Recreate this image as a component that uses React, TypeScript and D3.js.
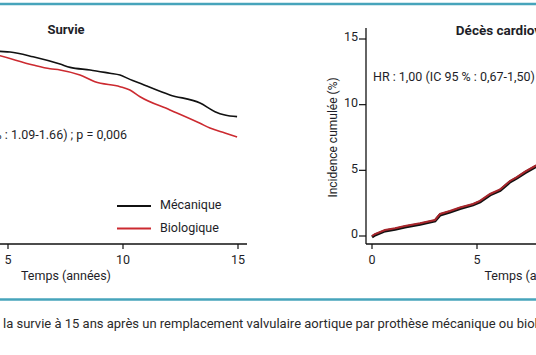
import React from "react";
import * as d3 from "d3";

// Survival (%) — left panel
const survTimes = [0, 4.65, 5.09, 6.09, 7.26, 7.7, 8.57, 9.43, 9.87, 10.3, 10.74, 12.04, 13.35, 14.0, 14.43, 14.96];
const survMeca = [100, 93.7, 93.4, 91.0, 87.3, 85.6, 84.3, 82.6, 81.7, 79.5, 77.5, 71.6, 67.5, 63.1, 61.4, 60.6];
const survBioTimes = [0, 4.65, 6.09, 6.83, 7.26, 8.13, 8.78, 9.87, 10.3, 10.74, 12.04, 13.35, 13.78, 14.43, 14.96];
const survBio = [100, 91.5, 86.8, 84.9, 84.3, 81.7, 78.3, 75.8, 74.1, 70.7, 64.0, 57.2, 54.8, 52.3, 50.3];

// Cumulative incidence (%) — cardiac death, right panel
const incTimes = [0, 0.14, 0.62, 1.1, 1.57, 2.29, 3.0, 3.24, 3.71, 4.19, 4.81, 5.14, 5.62, 6.1, 6.57, 6.9, 7.29, 7.81, 8.2];
const incValues = [0, 0.15, 0.46, 0.59, 0.76, 0.97, 1.22, 1.68, 1.9, 2.17, 2.44, 2.67, 3.2, 3.54, 4.19, 4.49, 4.9, 5.37, 5.6];

const xTicks = [0, 5, 10, 15];
const yTicksRight = [0, 5, 10, 15];

const FONT = "Roboto, 'Open Sans', sans-serif";
const TEAL = "#47a4bb";
const TXT = "#1e1e28";
const RED = "#cc2a30";

export default function App() {
  // left panel scales
  const xL = d3.scaleLinear().domain([0, 15]).range([-107, 238]);
  const yL = d3.scaleLinear().domain([0, 100]).range([236, 39]);
  // right panel scales
  const xR = d3.scaleLinear().domain([0, 15]).range([372, 687]);
  const yR = d3.scaleLinear().domain([0, 15]).range([236, 39]);

  const lineL = d3.line<[number, number]>().x((d) => xL(d[0])).y((d) => yL(d[1])).curve(d3.curveMonotoneX);
  const lineR = d3.line<[number, number]>().x((d) => xR(d[0])).y((d) => yR(d[1]));

  const meca = survTimes.map((t, i) => [t, survMeca[i]] as [number, number]);
  const bio = survBioTimes.map((t, i) => [t, survBio[i]] as [number, number]);
  const inc = incTimes.map((t, i) => [t, incValues[i]] as [number, number]);

  const axisY = 244;

  return (
    <div style={{ position: "fixed", left: 0, top: 0 }}>
      <svg width={536} height={355} style={{ display: "block", background: "#fff" }} fontFamily={FONT}>
        <line x1={0} x2={536} y1={4} y2={4} stroke={TEAL} strokeWidth={2.5} />
        <line x1={0} x2={536} y1={299.5} y2={299.5} stroke={TEAL} strokeWidth={2.5} />

        {/* Left panel */}
        <text x={66} y={31} textAnchor="middle" dominantBaseline="middle" fontWeight="bold" fontSize={13} fill={TXT}>
          Survie
        </text>
        <path d={lineL(meca) || ""} fill="none" stroke="#111" strokeWidth={1.6} />
        <path d={lineL(bio) || ""} fill="none" stroke={RED} strokeWidth={1.6} />
        <text x={127} y={136} textAnchor="end" dominantBaseline="middle" fontSize={12.5} fill={TXT}>
          HR : 1,34 (IC 95 % : 1.09-1.66) ; p = 0,006
        </text>
        <line x1={117} x2={151} y1={206} y2={206} stroke="#111" strokeWidth={1.8} />
        <text x={160} y={206} dominantBaseline="middle" fontSize={12.5} fill={TXT}>Mécanique</text>
        <line x1={117} x2={151} y1={228.5} y2={228.5} stroke={RED} strokeWidth={1.8} />
        <text x={160} y={228.5} dominantBaseline="middle" fontSize={12.5} fill={TXT}>Biologique</text>

        <line x1={-120} x2={247} y1={axisY} y2={axisY} stroke="#111" strokeWidth={1.3} />
        {xTicks.map((t) => (
          <g key={"xl" + t}>
            <line x1={xL(t)} x2={xL(t)} y1={axisY} y2={axisY + 5} stroke="#111" strokeWidth={1.2} />
            <text x={xL(t)} y={261} textAnchor="middle" dominantBaseline="middle" fontSize={12.5} fill={TXT}>{t}</text>
          </g>
        ))}
        <text x={66} y={277} textAnchor="middle" dominantBaseline="middle" fontSize={12.5} fill={TXT}>Temps (années)</text>

        {/* Right panel */}
        <text x={xR(7.5)} y={31} textAnchor="middle" dominantBaseline="middle" fontWeight="bold" fontSize={13.5} fill={TXT}>
          Décès cardiovasculaires
        </text>
        <text x={373} y={78} dominantBaseline="middle" fontSize={12.5} fill={TXT}>
          HR : 1,00 (IC 95 % : 0,67-1,50) ; p = 0,99
        </text>
        <line x1={366} x2={366} y1={28} y2={axisY} stroke="#111" strokeWidth={1.3} />
        <line x1={366} x2={700} y1={axisY} y2={axisY} stroke="#111" strokeWidth={1.3} />
        {yTicksRight.map((v) => (
          <g key={"yr" + v}>
            <line x1={359} x2={366} y1={yR(v)} y2={yR(v)} stroke="#111" strokeWidth={1.2} />
            <text x={358} y={yR(v) - 1} textAnchor="end" dominantBaseline="middle" fontSize={12.5} fill={TXT}>{v}</text>
          </g>
        ))}
        {xTicks.map((t) => (
          <g key={"xr" + t}>
            <line x1={xR(t)} x2={xR(t)} y1={axisY} y2={axisY + 5} stroke="#111" strokeWidth={1.2} />
            <text x={xR(t)} y={261} textAnchor="middle" dominantBaseline="middle" fontSize={12.5} fill={TXT}>{t}</text>
          </g>
        ))}
        <text x={xR(7.5)} y={277} textAnchor="middle" dominantBaseline="middle" fontSize={12.5} fill={TXT}>Temps (années)</text>
        <text
          transform={`translate(334, ${yR(7.5)}) rotate(-90)`}
          textAnchor="middle"
          dominantBaseline="middle"
          fontSize={12}
          fill={TXT}
        >
          Incidence cumulée (%)
        </text>
        <path d={lineR(inc) || ""} fill="none" stroke="#111" strokeWidth={3} transform="translate(0,1)" />
        <path d={lineR(inc) || ""} fill="none" stroke="#a8262c" strokeWidth={2} />

        {/* Caption */}
        <text x={3} y={325} dominantBaseline="middle" fontSize={13} fill="#2a2a2a">
          la survie à 15 ans après un remplacement valvulaire aortique par prothèse mécanique ou biologique
        </text>
      </svg>
    </div>
  );
}
